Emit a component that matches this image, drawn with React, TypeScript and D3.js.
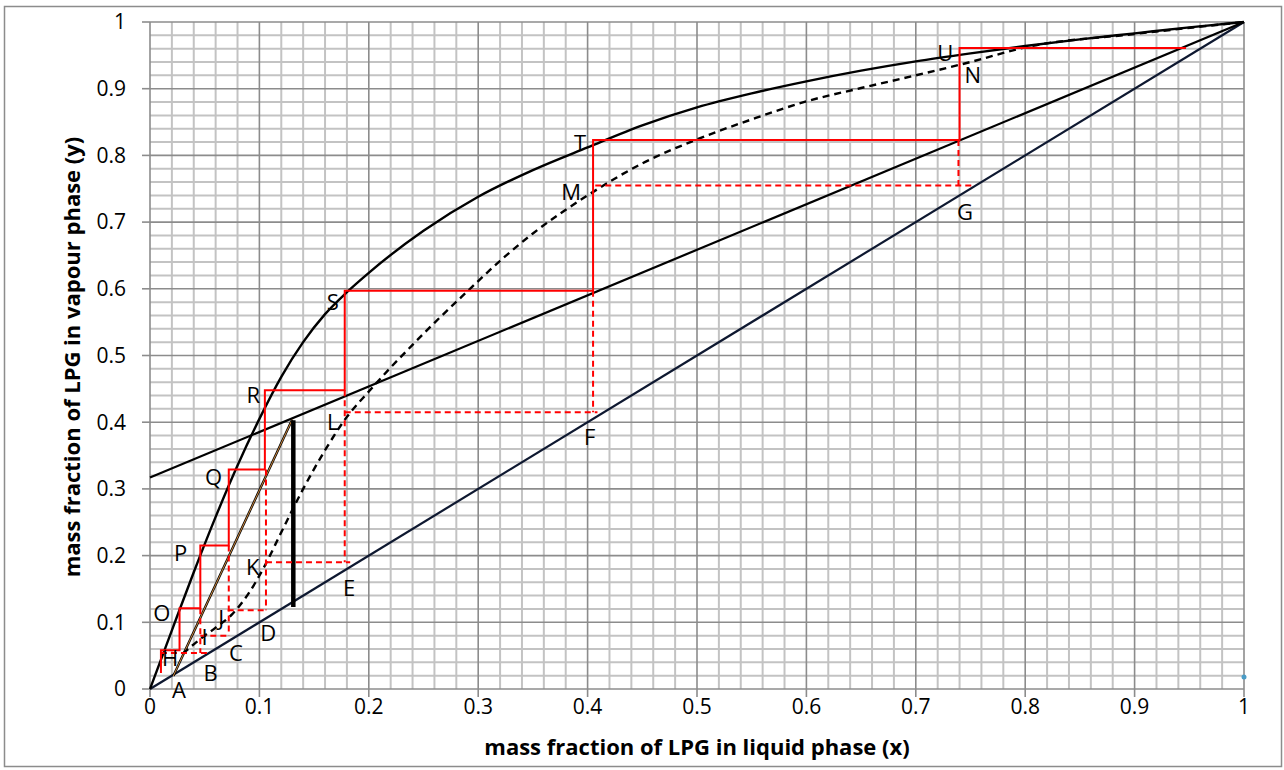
import React from "react";
import * as d3 from "d3";

// equilibrium curve (solid black)
const eqX = [0, 0.02, 0.04, 0.06, 0.08, 0.1, 0.12, 0.14, 0.16, 0.18, 0.2, 0.25, 0.3, 0.35, 0.4, 0.45, 0.5, 0.55, 0.6, 0.65, 0.7, 0.75, 0.8, 0.85, 0.9, 0.95, 1];
const eqY = [0, 0.088, 0.175, 0.258, 0.335, 0.405, 0.468, 0.52, 0.562, 0.595, 0.624, 0.687, 0.738, 0.778, 0.812, 0.845, 0.872, 0.893, 0.911, 0.927, 0.941, 0.953, 0.964, 0.974, 0.983, 0.992, 1];

// pseudo equilibrium curve (dashed black)
const pseX = [0.03, 0.046, 0.06, 0.075, 0.09, 0.105, 0.12, 0.14, 0.16, 0.18, 0.2, 0.22, 0.24, 0.26, 0.29, 0.32, 0.35, 0.4, 0.45, 0.5, 0.55, 0.6, 0.65, 0.7, 0.75, 0.8, 0.9, 1];
const pseY = [0.053, 0.075, 0.092, 0.112, 0.143, 0.185, 0.235, 0.3, 0.358, 0.408, 0.446, 0.482, 0.516, 0.549, 0.596, 0.642, 0.683, 0.74, 0.788, 0.824, 0.854, 0.881, 0.901, 0.92, 0.94, 0.962, 0.982, 1];

// straight lines
const diagX = [0, 1];
const diagY = [0, 1];
const opX = [0, 1];
const opY = [0.317, 1];
const stripX = [0.0213, 0.13];
const stripY = [0.0195, 0.404];
const feedX = [0.131, 0.131];
const feedY = [0.123, 0.403];

// red staircase (solid)
const stepX = [0.01, 0.01, 0.027, 0.027, 0.046, 0.046, 0.072, 0.072, 0.105, 0.105, 0.178, 0.178, 0.405, 0.405, 0.74, 0.74, 0.947];
const stepY = [0.024, 0.058, 0.058, 0.121, 0.121, 0.215, 0.215, 0.329, 0.329, 0.448, 0.448, 0.597, 0.597, 0.823, 0.823, 0.961, 0.961];

// red dashed steps
const dashHy = [0.054, 0.08, 0.118, 0.19, 0.415, 0.755];
const dashHx0 = [0.01, 0.046, 0.071, 0.106, 0.178, 0.407];
const dashHx1 = [0.053, 0.072, 0.106, 0.183, 0.409, 0.751];
const dashVx = [0.046, 0.072, 0.106, 0.178, 0.405, 0.739];
const dashVy0 = [0.121, 0.215, 0.329, 0.448, 0.597, 0.823];
const dashVy1 = [0.054, 0.08, 0.118, 0.19, 0.415, 0.755];

// point letters
const letters = ["A", "B", "C", "D", "E", "F", "G", "H", "I", "J", "K", "L", "M", "N", "O", "P", "Q", "R", "S", "T", "U"];
const letterX = [0.0265, 0.0555, 0.0786, 0.108, 0.182, 0.402, 0.745, 0.0183, 0.05, 0.065, 0.094, 0.167, 0.385, 0.752, 0.0107, 0.028, 0.058, 0.0944, 0.167, 0.393, 0.727];
const letterY = [-0.0015, 0.024, 0.054, 0.084, 0.151, 0.378, 0.715, 0.046, 0.078, 0.106, 0.182, 0.4, 0.745, 0.92, 0.114, 0.204, 0.318, 0.441, 0.58, 0.818, 0.953];

const tickLabels = ["0", "0.1", "0.2", "0.3", "0.4", "0.5", "0.6", "0.7", "0.8", "0.9", "1"];
const markerX = [1];
const markerY = [0.018];

const W = 1284;
const H = 770;
const font = "'Open Sans', sans-serif";

export default function App() {
  const x = d3.scaleLinear().domain([0, 1]).range([150, 1244]);
  const y = d3.scaleLinear().domain([0, 1]).range([689, 22]);

  const pts = (xs: number[], ys: number[]) => xs.map((v, i) => [v, ys[i]] as [number, number]);
  const straight = d3.line<[number, number]>().x((d) => x(d[0])).y((d) => y(d[1]));
  const smooth = d3
    .line<[number, number]>()
    .x((d) => x(d[0]))
    .y((d) => y(d[1]))
    .curve(d3.curveMonotoneX);

  const minor = d3.range(0, 1.0001, 0.02).filter((_, i) => i % 5 !== 0);
  const major = d3.range(0, 1.0001, 0.1);

  return (
    <svg width={W} height={H} style={{ position: "absolute", left: 0, top: 0, background: "#fff" }}>
      <rect x={4.5} y={6.5} width={1277} height={760} fill="#fff" stroke="#8c8c8c" strokeWidth={1.5} />

      {/* grid */}
      <g>
        {minor.map((v, i) => (
          <g key={"m" + i}>
            <line x1={x(v)} x2={x(v)} y1={y(0)} y2={y(1)} stroke="#c3c3c3" strokeWidth={2} />
            <line x1={x(0)} x2={x(1)} y1={y(v)} y2={y(v)} stroke="#c3c3c3" strokeWidth={2} />
          </g>
        ))}
        {major.map((v, i) => (
          <g key={"M" + i}>
            <line x1={x(v)} x2={x(v)} y1={y(0)} y2={y(1)} stroke="#8c8c8c" strokeWidth={1.6} />
            <line x1={x(0)} x2={x(1)} y1={y(v)} y2={y(v)} stroke="#8c8c8c" strokeWidth={1.6} />
          </g>
        ))}
      </g>

      {/* axes */}
      <g>
        {major.map((v, i) => (
          <g key={"t" + i}>
            <line x1={x(0) - 8} x2={x(0)} y1={y(v)} y2={y(v)} stroke="#8c8c8c" strokeWidth={1.6} />
            <line x1={x(v)} x2={x(v)} y1={y(0)} y2={y(0) + 8} stroke="#8c8c8c" strokeWidth={1.6} />
            <text x={126} y={y(v)} dy="0.35em" textAnchor="end" fontFamily={font} fontSize={21} fill="#000">
              {tickLabels[i]}
            </text>
            <text x={x(v)} y={707} dy="0.35em" textAnchor="middle" fontFamily={font} fontSize={21} fill="#000">
              {tickLabels[i]}
            </text>
          </g>
        ))}
        <text x={697} y={747} dy="0.35em" textAnchor="middle" fontFamily={font} fontWeight="bold" fontSize={22} fill="#000">
          mass fraction of LPG in liquid phase (x)
        </text>
        <text
          transform={`translate(72,357) rotate(-90)`}
          dy="0.35em"
          textAnchor="middle"
          fontFamily={font}
          fontWeight="bold"
          fontSize={22}
          fill="#000"
        >
          mass fraction of LPG in vapour phase (y)
        </text>
      </g>

      {/* lines */}
      <path d={straight(pts(diagX, diagY)) || ""} fill="none" stroke="#0e1830" strokeWidth={2.2} />
      <path d={straight(pts(opX, opY)) || ""} fill="none" stroke="#000" strokeWidth={2.2} />
      <path d={straight(pts(stripX, stripY)) || ""} fill="none" stroke="#000" strokeWidth={2.4} />
      <path d={straight(pts(stripX, stripY)) || ""} fill="none" stroke="#c8843c" strokeWidth={1} />
      <path d={straight(pts(feedX, feedY)) || ""} fill="none" stroke="#000" strokeWidth={4.5} />

      <path d={smooth(pts(eqX, eqY)) || ""} fill="none" stroke="#000" strokeWidth={2.4} />
      <path d={smooth(pts(pseX, pseY)) || ""} fill="none" stroke="#000" strokeWidth={2.4} strokeDasharray="7,5" />

      {/* red steps */}
      <path d={straight(pts(stepX, stepY)) || ""} fill="none" stroke="#ff0000" strokeWidth={2} />
      {dashHy.map((v, i) => (
        <line key={"dh" + i} x1={x(dashHx0[i])} x2={x(dashHx1[i])} y1={y(v)} y2={y(v)} stroke="#ff0000" strokeWidth={2} strokeDasharray="6,4" />
      ))}
      {dashVx.map((v, i) => (
        <line key={"dv" + i} x1={x(v)} x2={x(v)} y1={y(dashVy0[i])} y2={y(dashVy1[i])} stroke="#ff0000" strokeWidth={2} strokeDasharray="6,4" />
      ))}

      {/* letters */}
      {letters.map((l, i) => (
        <text key={l} x={x(letterX[i])} y={y(letterY[i])} dy="0.35em" textAnchor="middle" fontFamily={font} fontSize={22} fill="#000">
          {l}
        </text>
      ))}

      {markerX.map((v, i) => (
        <circle key={"mk" + i} cx={x(v)} cy={y(markerY[i])} r={2.5} fill="#4a9cc6" />
      ))}
    </svg>
  );
}
